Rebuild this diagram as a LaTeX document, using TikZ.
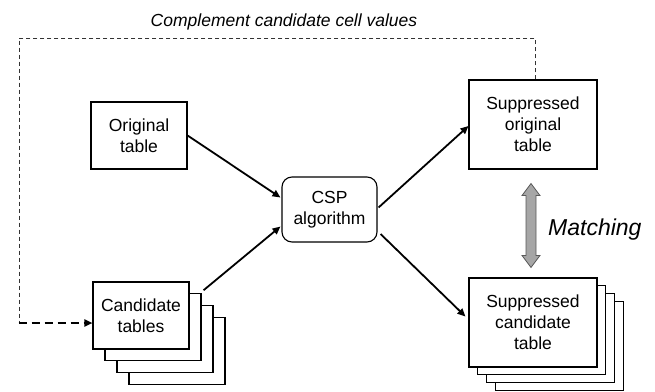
\documentclass[tikz,border=0pt]{standalone}
\usepackage{fontspec}
\setmainfont{Liberation Sans}
\usetikzlibrary{arrows.meta,calc}
\begin{document}
\begin{tikzpicture}[x=1pt,y=-1pt,
  tbox/.style={draw=black,line width=1.1pt,fill=white,align=center,inner sep=0pt,
    font=\fontsize{17.5}{21}\selectfont},
  flow/.style={line width=1.8pt,-{Triangle[length=8pt,width=7pt]}},
  fbthin/.style={line width=1pt,dash pattern=on 4pt off 3pt,draw=black!80},
  fbthick/.style={line width=1.8pt,dash pattern=on 8pt off 5pt,-{Triangle[length=8pt,width=7pt]}},
  matcharrow/.style={draw=black!65,fill=black!35,line width=0.8pt},
  lbl/.style={font=\fontsize{17.5}{21}\selectfont\itshape,inner sep=0pt}
]
\useasboundingbox (0,0) rectangle (655,391);

% top label
\node[lbl,anchor=base] (toplbl) at (284,26) {Complement candidate cell values};

% original table
\node[tbox,minimum width=96pt,minimum height=67pt] (ot) at (139,135.5) {Original\\table};

% CSP
\node[tbox,rounded corners=10pt,minimum width=95pt,minimum height=65pt] (csp) at (329.5,209.5) {CSP\\algorithm};

% candidate tables stack
\foreach \k in {3,2,1}{
  \node[tbox,minimum width=96pt,minimum height=67pt] (ct\k) at ($(141,315.5)+\k*(12,11.8)$) {};
}
\node[tbox,minimum width=96pt,minimum height=67pt] (ct) at (141,315.5) {Candidate\\tables};

% suppressed original
\node[tbox,minimum width=128pt,minimum height=89pt] (so) at (533,124.5) {Suppressed\\original\\table};

% suppressed candidate stack
\foreach \k in {3,2,1}{
  \node[tbox,minimum width=128pt,minimum height=89pt] (sc\k) at ($(533,322.5)+\k*(8.7,7.7)$) {};
}
\node[tbox,minimum width=128pt,minimum height=89pt] (sc) at (533,322.5) {Suppressed\\candidate\\table};

% flow arrows
\draw[flow] (ot.east) -- ($(csp.west)+(-1,-12)$);
\draw[flow] ($(ct1.north east)+(2,-3)$) -- ($(csp.west)+(-1,17)$);
\draw[flow] ($(csp.east)+(1,-2)$) -- ($(so.west)+(0,1.5)$);
\draw[flow] ($(csp.east)+(3,24.5)$) -- ($(sc.west)+(-3,-6)$);

% feedback dashed loop
\coordinate (toprow) at (0,38);
\coordinate (fb) at (19,323);
\draw[fbthin] ($(so.north)+(2,0)$) |- (fb |- toprow) -- ($(fb)+(0,-2)$);
\draw[fbthick] ($(fb)+(-0.5,0)$) -- ($(fb -| ct.west)+(0,0)$);

% matching double arrow
\coordinate (mt) at ($(so.south)+(-2,14)$);
\coordinate (mb) at ($(sc.north)+(-2,-10)$);
\draw[matcharrow] (mt) -- ++(9,12) -- ++(-4,0) -- ($(mb)+(5,-12)$) -- ++(4,0) -- (mb)
  -- ++(-9,-12) -- ++(4,0) -- ($(mt)+(-5,12)$) -- ++(-4,0) -- cycle;
\node[font=\fontsize{23}{27}\selectfont\itshape,inner sep=0pt,anchor=base west] (matchlbl) at (548,235) {Matching};
\end{tikzpicture}
\end{document}
